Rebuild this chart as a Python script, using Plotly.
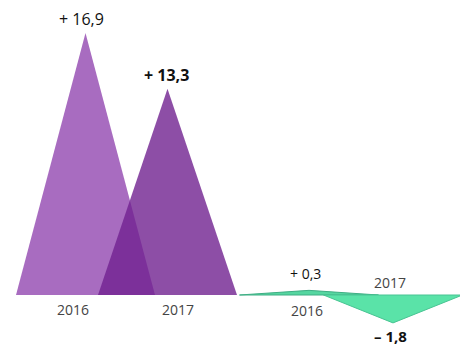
import plotly.graph_objects as go

# ---- data ----
groups = ["purple", "green"]
years = ["2016", "2017"]
purple_values = [16.9, 13.3]
green_values = [0.3, -1.8]
purple_labels = ["+ 16,9", "+ 13,3"]
green_labels = ["+ 0,3", "– 1,8"]

# ---- layout parameters (pixels of a 460x348 canvas) ----
W, H = 460, 348
base_px = 295            # baseline pixel row
k = 262 / 16.9           # pixels per unit
half_w = 69.5            # half base width of a spike
group_start = {"purple": 85.5, "green": 309}
spacing = {"purple": 82, "green": 84}

fills = {
    "purple": ["#a86cc0", "rgba(112,34,144,0.80)"],
    "green": ["#55d6a0", "#5ae3a8"],
}
lines = {
    "purple": ["rgba(0,0,0,0)", "rgba(0,0,0,0)"],
    "green": ["#3fae84", "#49c493"],
}

fig = go.Figure()

def add_spikes(name, values):
    for i, v in enumerate(values):
        c = group_start[name] + i * spacing[name]
        fig.add_trace(go.Scatter(
            x=[c - half_w, c, c + half_w, c - half_w],
            y=[0, v, 0, 0],
            mode="lines", fill="toself",
            fillcolor=fills[name][i],
            line=dict(color=lines[name][i], width=1 if name == "green" else 0),
            hoverinfo="skip", showlegend=False,
        ))

add_spikes("purple", purple_values)
add_spikes("green", green_values)

def px2y(py):
    return (base_px - py) / k

ann = []
font_year = dict(family="Open Sans", size=14, color="#444444")
# purple year labels
for i, yr in enumerate(years):
    c = group_start["purple"] + i * spacing["purple"]
    ann.append(dict(x=c + (-13 if i == 0 else 10), y=px2y(309), text=yr,
                    showarrow=False, font=font_year))
# purple value labels
for i, (v, t) in enumerate(zip(purple_values, purple_labels)):
    c = group_start["purple"] + i * spacing["purple"]
    ann.append(dict(x=c + (-4 if i == 0 else -1), y=v, yshift=14, text=t,
                    showarrow=False,
                    font=dict(family="Open Sans", size=16, color="#111111",
                              weight="bold" if i == 1 else "normal")))
# green year labels
gy = [310, 282]
for i, yr in enumerate(years):
    c = group_start["green"] + i * spacing["green"]
    ann.append(dict(x=c - 2 + (0 if i == 0 else -1), y=px2y(gy[i]), text=yr,
                    showarrow=False, font=font_year))
# green value labels
for i, (v, t) in enumerate(zip(green_values, green_labels)):
    c = group_start["green"] + i * spacing["green"]
    if v >= 0:
        ann.append(dict(x=c - 4, y=px2y(273), text=t, showarrow=False,
                        font=dict(family="Open Sans", size=14, color="#111111")))
    else:
        ann.append(dict(x=c - 3, y=px2y(336), text=t, showarrow=False,
                        font=dict(family="Open Sans", size=15, color="#111111",
                                  weight="bold")))

fig.update_layout(
    width=W, height=H,
    margin=dict(l=0, r=0, t=0, b=0),
    paper_bgcolor="white", plot_bgcolor="white",
    xaxis=dict(range=[0, W], visible=False, fixedrange=True),
    yaxis=dict(range=[px2y(H), px2y(0)], visible=False, fixedrange=True),
    annotations=ann,
)

fig.write_html("out.html")
